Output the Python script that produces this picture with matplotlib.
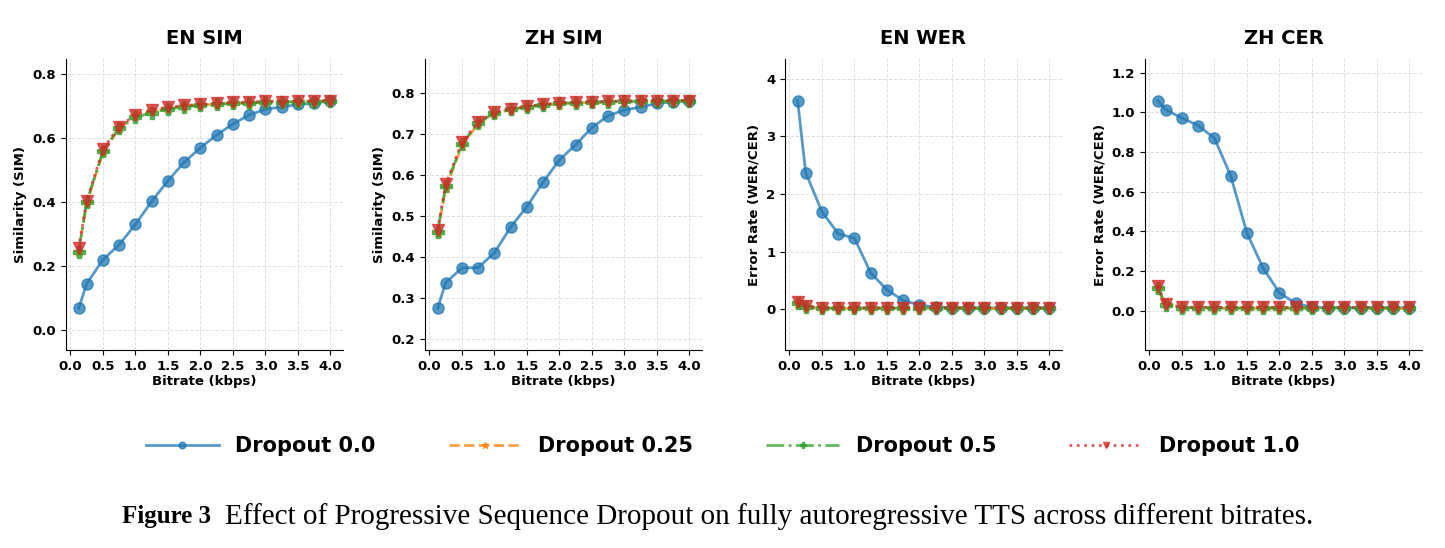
import numpy as np
import matplotlib
matplotlib.use("Agg")
import matplotlib.pyplot as plt

plt.rcParams["font.family"] = "DejaVu Sans"
plt.rcParams["font.weight"] = "bold"

bitrates = [0.125, 0.25, 0.5, 0.75, 1.0, 1.25, 1.5, 1.75, 2.0, 2.25, 2.5, 2.75, 3.0, 3.25, 3.5, 3.75, 4.0]
labels = ["Dropout 0.0", "Dropout 0.25", "Dropout 0.5", "Dropout 1.0"]
titles = ["EN SIM", "ZH SIM", "EN WER", "ZH CER"]
ylabels = ["Similarity (SIM)", "Similarity (SIM)", "Error Rate (WER/CER)", "Error Rate (WER/CER)"]

en_sim = [
    [0.068, 0.145, 0.220, 0.267, 0.330, 0.402, 0.466, 0.524, 0.569, 0.609, 0.643, 0.671, 0.689, 0.696, 0.704, 0.708, 0.715],
    [0.245, 0.398, 0.555, 0.630, 0.667, 0.682, 0.691, 0.698, 0.702, 0.705, 0.708, 0.709, 0.710, 0.711, 0.712, 0.713, 0.714],
    [0.245, 0.400, 0.558, 0.631, 0.664, 0.678, 0.690, 0.697, 0.701, 0.705, 0.707, 0.708, 0.711, 0.711, 0.713, 0.713, 0.716],
    [0.255, 0.403, 0.565, 0.635, 0.672, 0.688, 0.695, 0.701, 0.704, 0.707, 0.710, 0.711, 0.714, 0.713, 0.714, 0.715, 0.716],
]
zh_sim = [
    [0.274, 0.337, 0.373, 0.374, 0.410, 0.473, 0.523, 0.583, 0.637, 0.674, 0.716, 0.745, 0.759, 0.766, 0.775, 0.779, 0.781],
    [0.458, 0.568, 0.672, 0.726, 0.750, 0.760, 0.766, 0.771, 0.774, 0.776, 0.777, 0.778, 0.779, 0.780, 0.780, 0.781, 0.782],
    [0.462, 0.572, 0.676, 0.728, 0.751, 0.761, 0.767, 0.771, 0.775, 0.777, 0.778, 0.779, 0.780, 0.780, 0.781, 0.781, 0.782],
    [0.466, 0.577, 0.681, 0.730, 0.753, 0.762, 0.768, 0.773, 0.776, 0.778, 0.779, 0.780, 0.781, 0.781, 0.781, 0.782, 0.782],
]
en_wer = [
    [3.62, 2.37, 1.69, 1.31, 1.23, 0.63, 0.335, 0.15, 0.07, 0.035, 0.025, 0.02, 0.02, 0.02, 0.02, 0.02, 0.02],
    [0.09, 0.03, 0.015, 0.012, 0.012, 0.012, 0.012, 0.012, 0.012, 0.012, 0.012, 0.012, 0.012, 0.012, 0.012, 0.012, 0.012],
    [0.10, 0.04, 0.02, 0.018, 0.018, 0.018, 0.018, 0.018, 0.018, 0.018, 0.018, 0.018, 0.018, 0.018, 0.018, 0.018, 0.018],
    [0.12, 0.05, 0.025, 0.022, 0.022, 0.022, 0.022, 0.022, 0.022, 0.022, 0.022, 0.022, 0.022, 0.022, 0.022, 0.022, 0.022],
]
zh_cer = [
    [1.059, 1.013, 0.971, 0.933, 0.869, 0.680, 0.391, 0.214, 0.089, 0.037, 0.017, 0.014, 0.014, 0.014, 0.014, 0.014, 0.014],
    [0.110, 0.035, 0.012, 0.011, 0.011, 0.011, 0.011, 0.011, 0.011, 0.011, 0.011, 0.011, 0.011, 0.011, 0.011, 0.011, 0.011],
    [0.115, 0.030, 0.015, 0.014, 0.014, 0.014, 0.014, 0.014, 0.014, 0.014, 0.014, 0.014, 0.014, 0.014, 0.014, 0.014, 0.014],
    [0.125, 0.035, 0.017, 0.016, 0.016, 0.016, 0.016, 0.016, 0.016, 0.016, 0.016, 0.016, 0.016, 0.016, 0.016, 0.016, 0.016],
]
panels = [en_sim, zh_sim, en_wer, zh_cer]

colors = ["#1f77b4", "#ff7f0e", "#2ca02c", "#d62728"]
styles = ["-", "--", "-.", ":"]
markers = ["o", "*", "P", "v"]

fig = plt.figure(figsize=(14.45, 5.48), dpi=100)
lefts = [66, 425, 785, 1145]
W, H = 1445, 548
axes = []
for i, left in enumerate(lefts):
    ax = fig.add_axes([left / W, 1 - 350 / H, 277 / W, 291 / H])
    axes.append(ax)
    data = panels[i]
    for j in range(4):
        ax.plot(bitrates, data[j], linestyle=styles[j], marker=markers[j], color=colors[j],
                linewidth=2, markersize=8, alpha=0.75, label=labels[j])
    allv = np.concatenate([np.array(d) for d in data])
    lo, hi = allv.min(), allv.max()
    pad = 0.2 * (hi - lo)
    ax.set_ylim(lo - pad, hi + pad)
    ax.set_title(titles[i], fontsize=14, fontweight="bold", pad=11)
    ax.set_xlabel("Bitrate (kbps)", fontsize=9.5, fontweight="bold", labelpad=2)
    ax.set_ylabel(ylabels[i], fontsize=9.5, fontweight="bold")
    ax.set_xticks([0.0, 0.5, 1.0, 1.5, 2.0, 2.5, 3.0, 3.5, 4.0])
    ax.tick_params(labelsize=9.5)
    for t in ax.get_xticklabels() + ax.get_yticklabels():
        t.set_fontweight("bold")
    ax.grid(True, linestyle="--", color="#cccccc", alpha=0.6, linewidth=0.7)
    ax.spines["top"].set_visible(False)
    ax.spines["right"].set_visible(False)

axes[2].set_yticks([0, 1, 2, 3, 4])
axes[3].set_yticks([0.0, 0.2, 0.4, 0.6, 0.8, 1.0, 1.2])

handles, labs = axes[0].get_legend_handles_labels()
fig.legend(handles, labs, loc="center", bbox_to_anchor=(0.5, 1 - 446 / H), ncol=4,
           frameon=False, prop={"size": 15, "weight": "bold"}, handlelength=3.5,
           columnspacing=3.5, markerscale=0.6)

# caption under the panels
renderer = fig.canvas.get_renderer()
fig_lbl = fig.text(122 / W, 1 - 517 / H, "Figure 3", fontsize=18, fontweight="bold",
                   family="Liberation Serif", va="center")
bb = fig_lbl.get_window_extent(renderer)
fig.text((bb.x1 + 14) / W, 1 - 517 / H,
         "Effect of Progressive Sequence Dropout on fully autoregressive TTS across different bitrates.",
         fontsize=21, fontweight="normal", family="Liberation Serif", va="center")

fig.savefig("out.png", dpi=100)
